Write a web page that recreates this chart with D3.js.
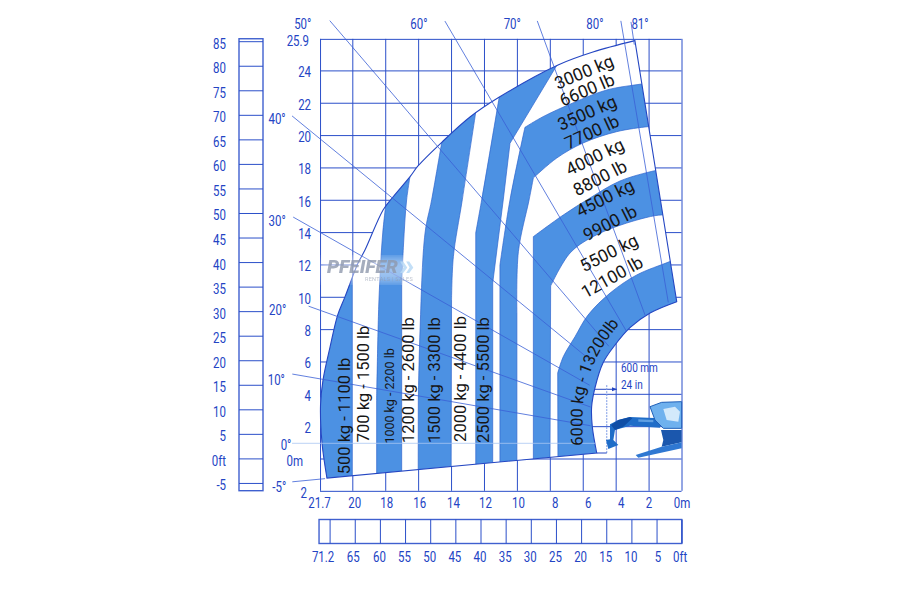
<!DOCTYPE html>
<html>
<head>
<meta charset="utf-8">
<title>Load chart</title>
<script src="https://cdn.jsdelivr.net/npm/d3@7"></script>
<style>
  body { margin: 0; background: #fff; }
  .axis text { font-family: Roboto, sans-serif; font-size: 15.5px; fill: #2344c4; }
  .axis line { stroke: #2b4fc9; stroke-width: 1; }
  .axis path { display: none; }
  .load text, .load textPath { font-family: Roboto, sans-serif; fill: #161616; }
</style>
</head>
<body>
<svg id="chart" width="900" height="600"></svg>
<script>
// reach (m), height (m)
var envelope = [[21.54,-1.21],[21.84,0.96],[21.93,3.31],[21.78,4.85],[21.35,6.90],[20.89,8.87],[20.44,10.01],
  [19.65,12.09],[19.23,12.89],[18.13,15.37],[17.53,16.17],[16.49,17.43],[16.01,18.09],[14.55,19.57],[12.85,21.12],
  [11.09,22.34],[7.50,24.34],[5.38,25.14],[2.83,25.84]];
var rightEdge = [[2.83,25.84],[0.29,9.70]];
var innerArc = [[0.29,9.70],[1.91,9.00],[3.13,8.09],[4.04,7.02],[4.77,5.91],[5.26,4.36],[5.46,3.20],[5.42,1.97],[5.15,0.34]];

// each band is a list of runs, a run is smoothed on its own so corners stay sharp
var band500 = [[[23,-3],[23,14]],[[23,14],[20,14]],[[20,14],[20,-3]]];
var band1000 = [[[17.9,16.2],[18.15,13.95],[18.38,9.80],[18.52,3.6]],[[18.52,3.6],[18.52,-3]],[[18.52,-3],[17,-3]],[[17,-3],[17,10.73]],[[17,10.73],[16.89,13.2],[16.70,15.99],[16.43,17.84]]];
var band1500 = [[[14.49,20.0],[15.18,15.99],[15.58,13.95],[15.89,7.76],[15.99,3.6]],[[15.99,3.6],[16,-3]],[[16,-3],[14,-3]],[[14,-3],[13.97,9.8]],[[13.97,9.8],[13.86,12.48],[13.32,15.99],[12.48,21.55]]];
var band2500 = [[[11.0,22.79],[12.14,15.99],[12.5,13.95]],[[12.5,13.95],[12.5,-3]],[[12.5,-3],[11.47,-3]],[[11.47,-3],[11.47,10.85]],[[11.47,10.85],[10.83,15.99]],[[10.83,15.99],[10.42,19.49]],[[10.42,19.49],[7.38,24.64]]];
var band3500 = [[[11.03,-3],[11.03,11.97]],[[11.03,11.97],[10.42,15.99],[9.51,20.48]],[[9.51,20.48],[8.41,21.14],[6.59,21.99],[4.54,22.79],[2.42,23.16],[1.5,23.3]],
  [[1.5,23.3],[1.5,20.55]],[[1.5,20.55],[2.04,20.52],[3.94,20.21],[5.98,19.51],[7.58,18.58],[9.0,17.35]],[[9.0,17.35],[9.26,15.99],[9.91,12.79],[10,9]],[[10,9],[10,-3]]];
var band4500 = [[[9,-3],[9,13.72]],[[9,13.72],[7.18,15.06],[5.56,16.11],[3.74,17.16],[1.62,17.80],[0.8,17.95]],
  [[0.8,17.95],[0.8,14.95]],[[0.8,14.95],[1.2,15.06],[3.33,14.56],[5.38,13.72],[6.77,12.71],[7.95,10.67]],[[7.95,10.67],[8,-3]]];
var band6000 = [[[7.5,-3],[7.52,5.29]],[[7.52,5.29],[7.18,6.30],[6.47,7.53],[5.68,8.87],[4.34,10.23],[2.72,11.35],[0.74,12.17],[0,12.5]],[[0,12.5],[0,-3]]];
var bands = [band500, band1000, band1500, band2500, band3500, band4500, band6000];

var xTicks = [21.96,20,18,16,14,12,10,8,6,4,2,0];
var xTickLabels = ["21.7","20","18","16","14","12","10","8","6","4","2","0m"];
var yTicks = [25.95,24,22,20,18,16,14,12,10,8,6,4,2,0,-2];
var yTickLabels = ["25.9","24","22","20","18","16","14","12","10","8","6","4","2","0m","2"];
var ftLeftTicks = [85,80,75,70,65,60,55,50,45,40,35,30,25,20,15,10,5,0,-5];
var ftBottomTicks = [70,65,60,55,50,45,40,35,30,25,20,15,10,5,0];
var ftBottomLabels = ["71.2","65","60","55","50","45","40","35","30","25","20","15","10","5","0ft"];

var angleLabels = ["-5°","0°","10°","20°","30°","40°","50°","60°","70°","80°","81°"];
var angleValues = [-5.6,0,10,20,30,39.8,49.9,60.1,70.2,80.6,81.9];
var angleStart = [24.4,24.3,24.66,24.79,27.98,31.63,34.17,30.12,27.76,26.48,26.32];
var angleEnd = [22.4,5.9,6.26,6.56,7.18,7.85,7.85,7.98,8.4,8.83,24.9];

var verticalLoads = ["500 kg - 1100 lb","700 kg - 1500 lb","1000 kg - 2200 lb","1200 kg - 2600 lb","1500 kg - 3300 lb","2000 kg - 4400 lb","2500 kg - 5500 lb"];
var verticalReach = [20.5,19.29,17.77,16.56,14.98,13.40,12.0];
var verticalHeight = [2.63,4.61,3.87,4.85,4.85,4.92,4.85];

var slantedLoads = ["3000 kg","6600 lb","3500 kg","7700 lb","4000 kg","8800 lb","4500 kg","9900 lb","5500 kg","12100 lb"];
var slantedReach = [5.92,5.74,5.74,5.44,5.26,4.95,4.65,4.34,4.40,4.22];
var slantedHeight = [23.90,22.79,21.37,20.19,18.65,17.35,16.11,14.56,12.71,11.22];
var slantedTilt = [-23,-23,-24,-25,-26,-27,-27,-27,-27,-29];

var arcLoad = "6000 kg - 13200lb";
var arcLoadPath = [[6.0,0.8],[5.96,3.6],[5.68,4.9],[4.98,6.6],[3.95,8.1],[3.3,8.9]];

var pivot = [-0.64, 0.94];

var svg = d3.select("#chart");

var x = d3.scaleLinear().domain([0, 20]).range([681.5, 352.3]);
var y = d3.scaleLinear().domain([0, 24]).range([458.5, 70.4]);
var ftY = d3.scaleLinear().domain([0, 85]).range([458.4, 41.2]);
var ftX = d3.scaleLinear().domain([0, 70]).range([681.7, 329.6]);

var smooth = d3.line().x(function(d) { return x(d[0]); }).y(function(d) { return y(d[1]); }).curve(d3.curveCatmullRom.alpha(0.5));

function runsPath(runs) {
  return runs.map(function(run, i) {
    var p = smooth(run);
    return i == 0 ? p : "L" + p.slice(1);
  }).join("") + "Z";
}

// text in the reference is a condensed face, squeeze the installed one
function condense(sel, ratio) {
  sel.each(function() {
    d3.select(this).attr("lengthAdjust", "spacingAndGlyphs").attr("textLength", this.getComputedTextLength() * ratio);
  });
}

// grid, drawn from the axes
var gridLeft = x(21.96), gridRight = x(0), gridTop = y(25.95), gridBottom = y(-2);

var yAxis = svg.append("g").attr("class", "axis").attr("transform", "translate(" + gridLeft + ",0)")
  .call(d3.axisLeft(y).tickValues(yTicks).tickSize(-(gridRight - gridLeft)).tickPadding(9)
    .tickFormat(function(d, i) { return yTickLabels[i]; }));
yAxis.selectAll("text").attr("dy", "0.42em")
  .attr("dx", function(d, i) { return yTickLabels[i] == "0m" ? -8 : yTickLabels[i] == "25.9" ? -2 : yTickLabels[i] == "2" && d < 0 ? -4 : 0; })
  .call(condense, 0.74);

var xLabelShift = [-1,2,1,1,2,1,1,5,5,5,0,0];
var xAxis = svg.append("g").attr("class", "axis").attr("transform", "translate(0," + gridBottom + ")")
  .call(d3.axisBottom(x).tickValues(xTicks).tickSize(-(gridBottom - gridTop)).tickPadding(6)
    .tickFormat(function(d, i) { return xTickLabels[i]; }));
xAxis.selectAll("text").attr("dx", function(d, i) { return xLabelShift[i]; }).call(condense, 0.74);

// left ruler in feet
var ftTop = ftY(85.5), ftBottom = ftY(-6.58);
svg.append("rect").attr("x", 239).attr("y", ftTop).attr("width", 24).attr("height", ftBottom - ftTop)
  .attr("fill", "none").attr("stroke", "#3f60cf").attr("stroke-width", 1.4);
var ftLeft = svg.append("g").attr("class", "axis").attr("transform", "translate(239,0)")
  .call(d3.axisLeft(ftY).tickValues(ftLeftTicks).tickSize(-24).tickPadding(13)
    .tickFormat(function(d) { return d == 0 ? "0ft" : d; }));
ftLeft.selectAll("text").attr("dy", "0.45em").call(condense, 0.74);

// bottom ruler in feet
svg.append("rect").attr("x", ftX(72.1)).attr("y", 519.5).attr("width", ftX(0) - ftX(72.1)).attr("height", 24)
  .attr("fill", "none").attr("stroke", "#3f60cf").attr("stroke-width", 1.4);
var ftShift = [-7,-2,-1,-1,-1,-1,-1,-1,-1,-1,-1,-1,-1,1,-2];
var ftBottomAxis = svg.append("g").attr("class", "axis").attr("transform", "translate(0,543.5)")
  .call(d3.axisBottom(ftX).tickValues(ftBottomTicks).tickSize(-24).tickPadding(7)
    .tickFormat(function(d, i) { return ftBottomLabels[i]; }));
ftBottomAxis.selectAll("text").attr("dx", function(d, i) { return ftShift[i]; }).call(condense, 0.74);

// load zone
var zonePath = runsPath([envelope, rightEdge, innerArc]);

svg.append("clipPath").attr("id", "zone").append("path").attr("d", zonePath);

svg.append("path").attr("d", zonePath).attr("fill", "#fff");

svg.append("g").attr("clip-path", "url(#zone)").selectAll("path").data(bands).join("path")
  .attr("d", runsPath)
  .attr("fill", "#4c91e3")
  .attr("stroke", "#2f66cf").attr("stroke-width", 0.7);

svg.append("path").attr("d", zonePath).attr("fill", "none").attr("stroke", "#2446c2").attr("stroke-width", 1.1);

// angle lines from the boom pivot
var rad = Math.PI / 180;
function along(a, r) { return [pivot[0] + r * Math.cos(a * rad), pivot[1] + r * Math.sin(a * rad)]; }
svg.append("g").selectAll("line").data(angleValues).join("line")
  .attr("x1", function(d, i) { return x(along(d, angleStart[i])[0]); })
  .attr("y1", function(d, i) { return y(along(d, angleStart[i])[1]); })
  .attr("x2", function(d, i) { return x(along(d, angleEnd[i])[0]); })
  .attr("y2", function(d, i) { return y(along(d, angleEnd[i])[1]); })
  .attr("stroke", function(d) { return d == 0 ? "#a9c6f2" : "#3a5fd6"; })
  .attr("stroke-width", 0.8);

var angleShiftX = [-13,-6,-16,-31,-16,-15,-27,-26,-25,-26,9];
var angleShiftY = [5,2,6,4,4,3,3,3,3,3,2];
svg.append("g").attr("class", "axis").selectAll("text").data(angleValues).join("text")
  .attr("x", function(d, i) { return x(along(d, angleStart[i])[0]) + angleShiftX[i]; })
  .attr("y", function(d, i) { return y(along(d, angleStart[i])[1]) + angleShiftY[i]; })
  .attr("text-anchor", "middle").attr("dominant-baseline", "central")
  .text(function(d, i) { return angleLabels[i]; })
  .call(condense, 0.74);

// load labels
var loads = svg.append("g").attr("class", "load");
loads.selectAll("text.v").data(verticalLoads).join("text").attr("class", "v")
  .attr("text-anchor", "middle").attr("dominant-baseline", "central")
  .attr("font-size", function(d, i) { return i == 2 ? 12.5 : 16.5; })
  .attr("transform", function(d, i) { return "translate(" + x(verticalReach[i]) + "," + y(verticalHeight[i]) + ") rotate(-90)"; })
  .text(function(d) { return d; });

loads.selectAll("text.s").data(slantedLoads).join("text").attr("class", "s")
  .attr("text-anchor", "middle").attr("dominant-baseline", "central").attr("font-size", 17.5)
  .attr("transform", function(d, i) { return "translate(" + x(slantedReach[i]) + "," + y(slantedHeight[i]) + ") rotate(" + slantedTilt[i] + ")"; })
  .text(function(d) { return d; });

svg.append("defs").append("path").attr("id", "arc-label").attr("d", smooth(arcLoadPath));
loads.append("text").attr("font-size", 16.5).append("textPath").attr("href", "#arc-label").text(arcLoad);

// reach clearance note
svg.append("line").attr("x1", x(5.26)).attr("x2", x(3.94)).attr("y1", y(4.28)).attr("y2", y(4.28)).attr("stroke", "#2446c2").attr("stroke-width", 1);
svg.append("path").attr("d", "M617,389.3l-5,-2v4z").attr("fill", "#2446c2");
svg.append("line").attr("x1", x(4.54)).attr("x2", x(4.54)).attr("y1", y(4.54)).attr("y2", y(0.34)).attr("stroke", "#7f9ce6").attr("stroke-width", 1).attr("stroke-dasharray", "2,1");
svg.append("line").attr("x1", x(5.15)).attr("x2", x(4.54)).attr("y1", y(0.34)).attr("y2", y(0.34)).attr("stroke", "#2446c2").attr("stroke-width", 1);
var note = svg.append("g").attr("class", "axis");
note.append("text").attr("x", 621).attr("y", 372).style("font-size", "13.5px").text("600 mm").call(condense, 0.74);
note.append("text").attr("x", 621).attr("y", 389).style("font-size", "13.5px").text("24 in").call(condense, 0.74);

// machine sketch
var machine = svg.append("g").attr("transform", "translate(595,385) scale(0.3333)");
machine.append("path").attr("fill", "#1f6dc8")
  .attr("d", "M45,118L70,105L105,96L195,100L195,128L105,122L60,135L55,165L70,180L40,192L33,165L45,163Z");
machine.append("path").attr("fill", "#0f4ea6")
  .attr("d", "M70,105L105,96L112,100L85,125L60,135L48,120Z");
machine.append("path").attr("fill", "#5f9fe2")
  .attr("d", "M130,103L175,105L175,112L130,110Z");
machine.append("path").attr("fill", "#1b57ad")
  .attr("d", "M198,135L260,135L260,172L200,185L205,165Z");
machine.append("path").attr("fill", "#2f78d2")
  .attr("d", "M122,210L200,185L260,172L260,190L130,218Z");
machine.append("path").attr("fill", "#6fb1ee").attr("stroke", "#1f5fb8").attr("stroke-width", 3)
  .attr("d", "M165,65L200,52L260,50L260,130L205,130L180,105Z");
machine.append("path").attr("fill", "#d3e9fb").attr("d", "M205,72L240,65L255,80L250,110L215,105Z");

// watermark
var defs = svg.select("defs");
defs.append("filter").attr("id", "soft").append("feGaussianBlur").attr("stdDeviation", 4);
var mark = svg.append("g");
mark.append("rect").attr("x", 322).attr("y", 258).attr("width", 95).attr("height", 24).attr("fill", "#fff").attr("opacity", 0.45).attr("filter", "url(#soft)");
mark.append("text").attr("x", 327).attr("y", 273).attr("font-family", "Roboto, sans-serif").attr("font-weight", 900).attr("font-style", "italic").attr("font-size", 17.5).attr("textLength", 71).attr("lengthAdjust", "spacingAndGlyphs").attr("fill", "#8f99ad").attr("opacity", 0.8).text("PFEIFER");
mark.append("text").attr("x", 399).attr("y", 275).attr("font-family", "Roboto, sans-serif").attr("font-weight", 900).attr("font-size", 30).attr("fill", "#b9daf6").attr("opacity", 0.85).text("»");
mark.append("text").attr("x", 365).attr("y", 281).attr("font-family", "Roboto, sans-serif").attr("font-size", 5.5).attr("letter-spacing", 0.3).attr("fill", "#8f99ad").attr("opacity", 0.6).text("RENTALS | SALES");
</script>
</body>
</html>
